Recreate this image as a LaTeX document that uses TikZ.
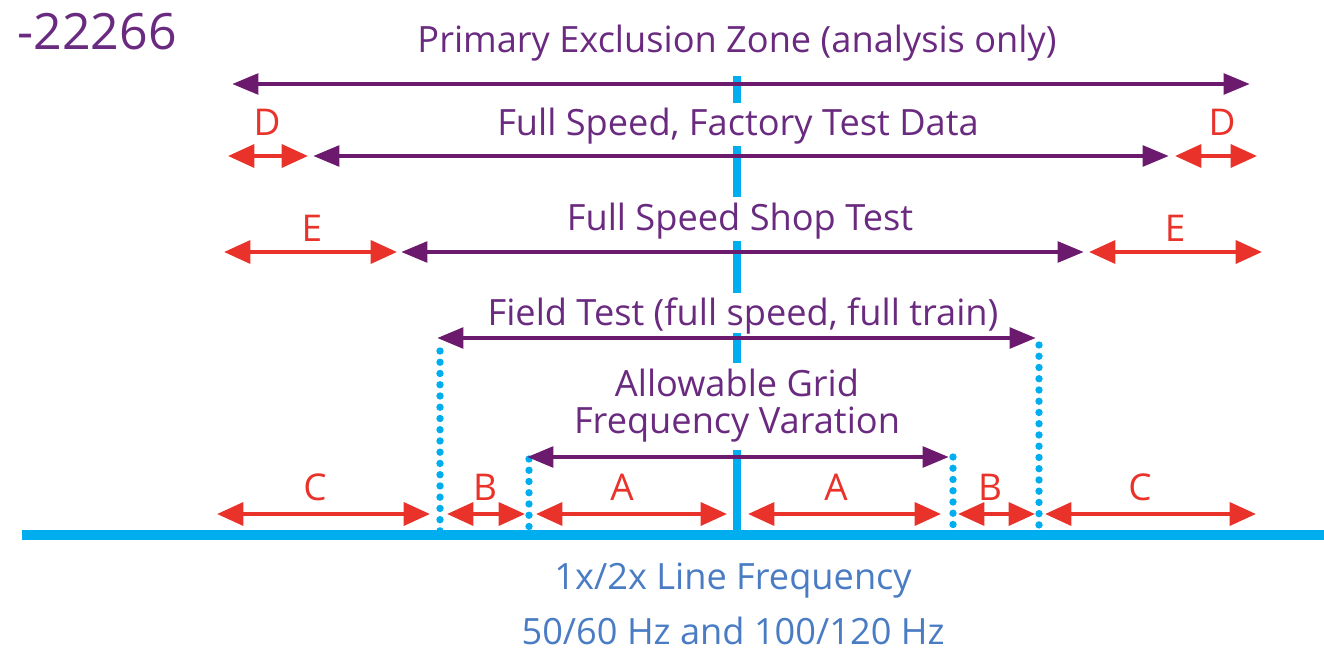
\documentclass[tikz,border=0pt]{standalone}
\usepackage{fontspec}
\setmainfont{Open Sans}
\usetikzlibrary{arrows.meta}
\definecolor{gepurple}{HTML}{6B1A6E}
\definecolor{getext}{HTML}{6A2A80}
\definecolor{gered}{HTML}{E8322A}
\definecolor{geblue}{HTML}{00AEEF}
\definecolor{gebtext}{HTML}{4A7CC4}
\tikzset{
  purarr/.style={draw=gepurple, line width=2.8pt, {Triangle[length=15pt,width=11.5pt]}-{Triangle[length=15pt,width=11.5pt]}},
  redarr/.style={draw=gered, line width=2.3pt, {Triangle[length=15pt,width=13pt]}-{Triangle[length=15pt,width=13pt]}},
  centerline/.style={draw=geblue, line width=5pt},
  baseline/.style={draw=geblue, line width=5.7pt},
  dotline/.style={draw=geblue, line width=4.2pt, line cap=round, dash pattern=on 0pt off 6.4pt},
  ptitle/.style={text=getext, font=\fontsize{20.6}{22}\selectfont, anchor=base, inner sep=0pt},
  rlabel/.style={text=gered, font=\fontsize{21}{22}\selectfont, anchor=base, inner sep=0pt},
  btext/.style={text=gebtext, font=\fontsize{20.6}{22}\selectfont, anchor=base, inner sep=0pt},
}
\begin{document}
\begin{tikzpicture}[x=0.02cm, y=-0.02cm]
\useasboundingbox (0,0) rectangle (1324,652);
% baseline
\coordinate (bl) at (22,535);
\coordinate (br) at (1324,535);
\draw[baseline] (bl) -- (br);
% center line segments
\coordinate (c1a) at (737,76); \coordinate (c1b) at (737,103);
\coordinate (c2a) at (737,146); \coordinate (c2b) at (737,197);
\coordinate (c3a) at (737,241); \coordinate (c3b) at (737,293);
\coordinate (c4a) at (737,333); \coordinate (c4b) at (737,363);
\coordinate (c5a) at (737,450); \coordinate (c5b) at (737,535);
\draw[centerline] (c1a) -- (c1b);
\draw[centerline] (c2a) -- (c2b);
\draw[centerline] (c3a) -- (c3b);
\draw[centerline] (c4a) -- (c4b);
\draw[centerline] (c5a) -- (c5b);
% dotted verticals
\coordinate (d1a) at (440,351); \coordinate (d1b) at (440,533);
\coordinate (d2a) at (1039,345); \coordinate (d2b) at (1039,533);
\coordinate (d3a) at (529,459); \coordinate (d3b) at (529,533);
\coordinate (d4a) at (953,457); \coordinate (d4b) at (953,533);
\draw[dotline] (d1a) -- (d1b);
\draw[dotline] (d2a) -- (d2b);
\draw[dotline] (d3a) -- (d3b);
\draw[dotline] (d4a) -- (d4b);
% row 1
\coordinate (r1l) at (232,84); \coordinate (r1r) at (1250,84);
\draw[purarr] (r1l) -- (r1r);
% row 2
\coordinate (r2a) at (228,156); \coordinate (r2b) at (308,156);
\coordinate (r2c) at (313,156); \coordinate (r2d) at (1169,156);
\coordinate (r2e) at (1175,156); \coordinate (r2f) at (1257,156);
\draw[redarr] (r2a) -- (r2b);
\draw[purarr] (r2c) -- (r2d);
\draw[redarr] (r2e) -- (r2f);
% row 3
\coordinate (r3a) at (224,252); \coordinate (r3b) at (397,252);
\coordinate (r3c) at (401,252); \coordinate (r3d) at (1084,252);
\coordinate (r3e) at (1089,252); \coordinate (r3f) at (1262,252);
\draw[redarr] (r3a) -- (r3b);
\draw[purarr] (r3c) -- (r3d);
\draw[redarr] (r3e) -- (r3f);
% row 4
\coordinate (r4a) at (437,338); \coordinate (r4b) at (1036,338);
\draw[purarr] (r4a) -- (r4b);
% row 5
\coordinate (r5a) at (527,457); \coordinate (r5b) at (949,457);
\draw[purarr] (r5a) -- (r5b);
% row 6
\coordinate (r6a) at (217,514); \coordinate (r6b) at (430,514);
\coordinate (r6c) at (447,514); \coordinate (r6d) at (525,514);
\coordinate (r6e) at (536,514); \coordinate (r6f) at (727,514);
\coordinate (r6g) at (748,514); \coordinate (r6h) at (941,514);
\coordinate (r6i) at (958,514); \coordinate (r6j) at (1035,514);
\coordinate (r6k) at (1045,514); \coordinate (r6l) at (1256,514);
\draw[redarr] (r6a) -- (r6b);
\draw[redarr] (r6c) -- (r6d);
\draw[redarr] (r6e) -- (r6f);
\draw[redarr] (r6g) -- (r6h);
\draw[redarr] (r6i) -- (r6j);
\draw[redarr] (r6k) -- (r6l);
% texts
\node[text=getext, font=\fontsize{28.5}{30}\selectfont, anchor=base west, inner sep=0pt] (num) at (17,50) {-22266};
\node[ptitle] (t1) at (737,53) {Primary Exclusion Zone (analysis only)};
\node[ptitle] (t2) at (738,135) {Full Speed, Factory Test Data};
\node[ptitle] (t3) at (740,230) {Full Speed Shop Test};
\node[ptitle] (t4) at (743,325) {Field Test (full speed, full train)};
\node[ptitle] (t5) at (737,396) {Allowable Grid};
\node[ptitle] (t6) at (737,433) {Frequency Varation};
\node[rlabel] (lD1) at (267,135) {D};
\node[rlabel] (lD2) at (1222,135) {D};
\node[rlabel] (lE1) at (312,241) {E};
\node[rlabel] (lE2) at (1175,241) {E};
\node[rlabel] (lC1) at (315,500) {C};
\node[rlabel] (lB1) at (485,500) {B};
\node[rlabel] (lA1) at (622,500) {A};
\node[rlabel] (lA2) at (836,500) {A};
\node[rlabel] (lB2) at (990,500) {B};
\node[rlabel] (lC2) at (1140,500) {C};
\node[btext] (b1) at (733,589) {1x/2x Line Frequency};
\node[btext] (b2) at (733,644) {50/60 Hz and 100/120 Hz};
\end{tikzpicture}
\end{document}
